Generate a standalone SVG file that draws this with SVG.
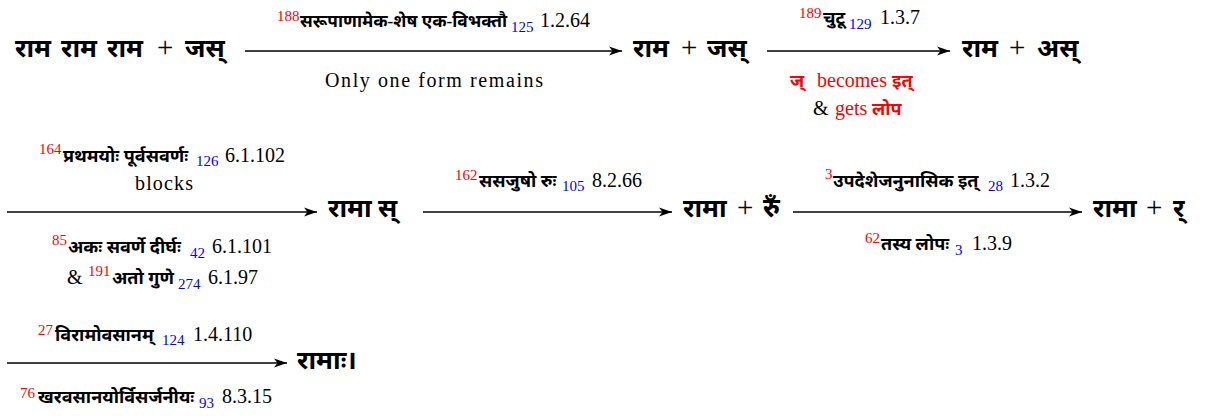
<svg xmlns="http://www.w3.org/2000/svg" width="1206" height="416" viewBox="0 0 1206 416">
<defs>
<marker id="ah" markerUnits="userSpaceOnUse" markerWidth="14" markerHeight="10" refX="13" refY="5" orient="auto">
<path d="M0,0.5 L13,5 L0,9.5 L3.5,5 Z" fill="#000"/>
</marker>
<style>
text{font-family:"Liberation Serif","Noto Sans","Noto Sans Devanagari",serif;fill:#000}
.big{font-size:26px;font-weight:bold}
.plus{font-size:29px;font-weight:normal}
.lab{font-size:20px}
.dv{font-weight:bold;font-size:18px}
.dvs{font-size:17.3px}
.sup{fill:#ff0000;font-size:15px}
.sub{fill:#0000ff;font-size:15px}
.red{fill:#ff0000}
.arr{stroke:#000;stroke-width:1.3;fill:none;marker-end:url(#ah)}
</style>
</defs>
<rect width="1206" height="416" fill="#fff"/>
<g id="connectors">
<line class="arr" x1="245" y1="51" x2="622" y2="51"/>
<line class="arr" x1="767" y1="51" x2="950" y2="51"/>
<line class="arr" x1="7" y1="212" x2="317" y2="212"/>
<line class="arr" x1="423" y1="212" x2="672" y2="212"/>
<line class="arr" x1="793" y1="212" x2="1082" y2="212"/>
<line class="arr" x1="7" y1="363" x2="287" y2="363"/>
</g>
<g id="node-1"><text class="big" y="57"><tspan x="15">राम</tspan><tspan x="61">राम</tspan><tspan x="107">राम</tspan><tspan class="plus" x="157">+</tspan><tspan x="185">जस्</tspan></text></g>
<g id="node-2"><text class="big" y="57"><tspan x="633">राम</tspan><tspan class="plus" x="681">+</tspan><tspan x="707">जस्</tspan></text></g>
<g id="node-3"><text class="big" y="57"><tspan x="962">राम</tspan><tspan class="plus" x="1009">+</tspan><tspan x="1037">अस्</tspan></text></g>
<g id="node-4"><text class="big" y="217"><tspan x="328">रामा</tspan><tspan x="378">स्</tspan></text></g>
<g id="node-5"><text class="big" y="217"><tspan x="683">रामा</tspan><tspan class="plus" x="737">+</tspan><tspan x="763">रुँ</tspan></text></g>
<g id="node-6"><text class="big" y="217"><tspan x="1093">रामा</tspan><tspan class="plus" x="1146">+</tspan><tspan x="1173">र्</tspan></text></g>
<g id="node-7"><text class="big" x="297" y="369">रामाः।</text></g>
<g id="labels">
<text class="lab"><tspan class="sup" x="277" y="21">188</tspan><tspan class="dv dvs" x="300" y="27">सरूपाणामेक-शेष एक-विभक्तौ</tspan><tspan class="sub" x="511" y="32">125</tspan><tspan x="540" y="27">1.2.64</tspan></text>
<text class="lab" x="325" y="87" textLength="218" lengthAdjust="spacing">Only one form remains</text>
<text class="lab"><tspan class="sup" x="799" y="18">189</tspan><tspan class="dv" x="823" y="24">चुटू</tspan><tspan class="sub" x="849" y="29">129</tspan><tspan x="880" y="24">1.3.7</tspan></text>
<text class="lab red"><tspan class="dv" x="790" y="87">ज्</tspan><tspan x="817" y="87">becomes</tspan><tspan class="dv" x="892" y="87">इत्</tspan></text>
<text class="lab"><tspan x="813" y="115">&amp;</tspan><tspan class="red" x="835" y="115">gets</tspan><tspan class="dv red" x="872" y="115">लोप</tspan></text>
<text class="lab"><tspan class="sup" x="39" y="154">164</tspan><tspan class="dv" x="63" y="162">प्रथमयोः पूर्वसवर्णः</tspan><tspan class="sub" x="196" y="166">126</tspan><tspan x="225" y="162">6.1.102</tspan></text>
<text class="lab" x="135" y="190" textLength="58" lengthAdjust="spacing">blocks</text>
<text class="lab"><tspan class="sup" x="52" y="245">85</tspan><tspan class="dv" x="68" y="253">अकः सवर्णे दीर्घः</tspan><tspan class="sub" x="190" y="258">42</tspan><tspan x="212" y="253">6.1.101</tspan></text>
<text class="lab"><tspan x="67" y="284">&amp;</tspan><tspan class="sup" x="88" y="276">191</tspan><tspan class="dv" x="112" y="284">अतो गुणे</tspan><tspan class="sub" x="178" y="289">274</tspan><tspan x="208" y="284">6.1.97</tspan></text>
<text class="lab"><tspan class="sup" x="455" y="180">162</tspan><tspan class="dv" x="479" y="187">ससजुषो रुः</tspan><tspan class="sub" x="562" y="191">105</tspan><tspan x="592" y="187">8.2.66</tspan></text>
<text class="lab"><tspan class="sup" x="825" y="179">3</tspan><tspan class="dv" x="833" y="187">उपदेशेजनुनासिक इत्</tspan><tspan class="sub" x="988" y="191">28</tspan><tspan x="1010" y="187">1.3.2</tspan></text>
<text class="lab"><tspan class="sup" x="865" y="243">62</tspan><tspan class="dv" x="881" y="250">तस्य लोपः</tspan><tspan class="sub" x="955" y="255">3</tspan><tspan x="972" y="250">1.3.9</tspan></text>
<text class="lab"><tspan class="sup" x="38" y="335">27</tspan><tspan class="dv" x="55" y="341">विरामोवसानम्</tspan><tspan class="sub" x="162" y="345">124</tspan><tspan x="193" y="341">1.4.110</tspan></text>
<text class="lab"><tspan class="sup" x="20" y="398">76</tspan><tspan class="dv" x="38" y="403">खरवसानयोर्विसर्जनीयः</tspan><tspan class="sub" x="199" y="408">93</tspan><tspan x="222" y="403">8.3.15</tspan></text>
</g>
</svg>
